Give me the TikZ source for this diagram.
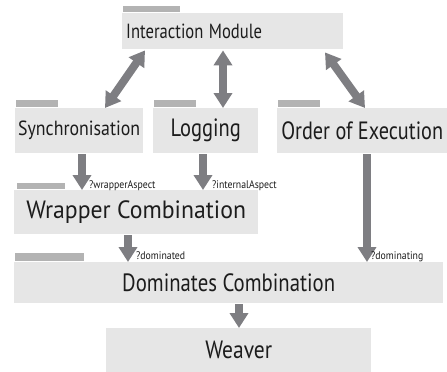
\documentclass[tikz,border=0pt]{standalone}
\usepackage{fontspec}
\setmainfont{PT Sans}
\usetikzlibrary{arrows.meta,calc}
\definecolor{boxfill}{HTML}{E6E6E6}
\definecolor{tabfill}{HTML}{B3B3B3}
\definecolor{arrowgray}{HTML}{7E7E82}
\definecolor{txt}{HTML}{1C1C1C}
\newcommand\cond[2]{\scalebox{#1}[1]{#2}}
\tikzset{
  box/.style={fill=boxfill, inner sep=0pt, text=txt, anchor=north west},
  bigtxt/.style={font=\fontsize{25}{28}\selectfont},
  smalltxt/.style={font=\fontsize{20.5}{23}\selectfont},
  tabbox/.style={fill=tabfill},
  fat/.style={draw=arrowgray, line width=8pt, -{Triangle[width=18pt,length=15pt]}},
  fatdbl/.style={draw=arrowgray, line width=8pt, {Triangle[width=18pt,length=15pt]}-{Triangle[width=18pt,length=15pt]}},
  lbl/.style={font=\fontsize{11}{13}\selectfont, text=txt, inner sep=0pt, anchor=base west}
}
\begin{document}
\begin{tikzpicture}[x=1pt,y=-1pt]
\useasboundingbox (0,0) rectangle (447,372);
% boxes
\node[box, smalltxt, minimum width=221pt, minimum height=36pt, text width=213pt, align=left] (im) at (122,13) {\cond{0.81}{Interaction Module}};
\node[box, smalltxt, minimum width=128pt, minimum height=45pt, align=center] (sync) at (15,108) {\cond{0.87}{Synchronisation}};
\node[box, bigtxt, minimum width=105pt, minimum height=45pt, align=center] (log) at (153,108) {\cond{0.82}{Logging}};
\node[box, bigtxt, minimum width=170pt, minimum height=45pt, align=center] (order) at (277,108) {\cond{0.81}{Order of Execution}};
\node[box, bigtxt, minimum width=244pt, minimum height=44pt, align=center] (wrap) at (14,190) {\cond{0.95}{Wrapper Combination}};
\node[box, bigtxt, minimum width=429pt, minimum height=41pt, align=center] (dom) at (14,262) {\cond{0.83}{Dominates Combination}};
\node[box, bigtxt, minimum width=265pt, minimum height=44pt, align=center] (weaver) at (106,328) {\cond{0.86}{Weaver}};
% tabs
\fill[tabbox] ($(im.north west)+(1,-7)$) rectangle ++(57,6);
\fill[tabbox] ($(sync.north west)+(1,-8)$) rectangle ++(42,7);
\fill[tabbox] ($(log.north west)+(1,-8)$) rectangle ++(42,7);
\fill[tabbox] ($(order.north west)+(1,-8)$) rectangle ++(42,7);
\fill[tabbox] ($(wrap.north west)+(3,-7)$) rectangle ++(48,6);
\fill[tabbox] ($(dom.north west)+(1,-9)$) rectangle ++(69,8);
% arrows
\draw[fatdbl] ($(im.south west)+(23,1)$) -- ($(sync.north west)+(90,0)$);
\draw[fatdbl] ($(im.south west)+(101,1)$) -- ($(log.north west)+(70,0)$);
\draw[fatdbl] ($(im.south west)+(203,3)$) -- ($(order.north west)+(88,0)$);
\draw[fat] ($(sync.south west)+(67,1)$) -- ($(wrap.north west)+(68,0)$);
\draw[fat] ($(log.south west)+(50,1)$) -- ($(wrap.north west)+(189,0)$);
\draw[fat] ($(order.south west)+(90,1)$) -- ($(dom.north west)+(353,0)$);
\draw[fat] ($(wrap.south west)+(114,1)$) -- ($(dom.north west)+(114,0)$);
\draw[fat] ($(dom.south west)+(225,1)$) -- ($(weaver.north west)+(133,0)$);
% labels
\node[lbl] (lwa) at (89,188) {\cond{0.89}{?wrapperAspect}};
\node[lbl] (lia) at (212,188) {\cond{0.89}{?internalAspect}};
\node[lbl] (ldd) at (136,259) {\cond{0.89}{?dominated}};
\node[lbl] (ldg) at (371,259) {\cond{0.89}{?dominating}};
\end{tikzpicture}
\end{document}
